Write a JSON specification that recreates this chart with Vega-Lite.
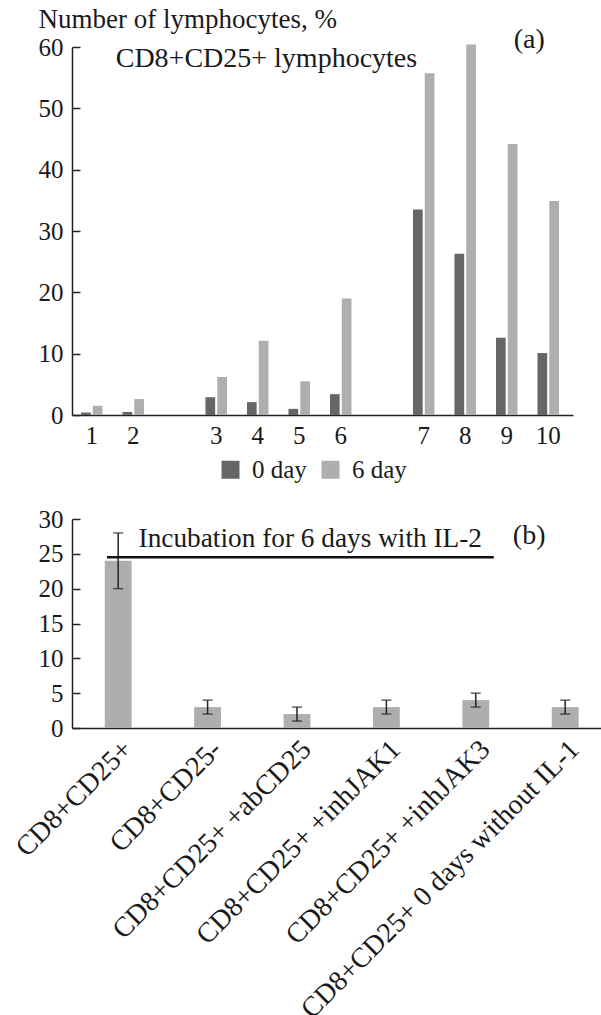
{
  "$schema": "https://vega.github.io/schema/vega-lite/v6.json",
  "padding": {"left": 10, "top": 5, "right": 0, "bottom": 0},
  "background": "white",
  "bounds": "flush",
  "spacing": 104,
  "config": {
    "view": {"stroke": null},
    "font": "Liberation Serif",
    "axis": {
      "labelFont": "Liberation Serif",
      "labelFontSize": 25,
      "labelColor": "#1a1a1a",
      "domainColor": "#222222",
      "domainWidth": 1.5,
      "tickColor": "#222222",
      "tickWidth": 1.5,
      "grid": false,
      "titleFont": "Liberation Serif",
      "titleFontWeight": "normal",
      "titleColor": "#1a1a1a"
    },
    "legend": {
      "labelFont": "Liberation Serif",
      "labelFontSize": 25,
      "labelColor": "#1a1a1a",
      "symbolStrokeWidth": 0,
      "columnPadding": 11,
      "labelOffset": 9,
      "padding": 0
    },
    "text": {"font": "Liberation Serif", "fontSize": 28, "color": "#1a1a1a"}
  },
  "vconcat": [
    {
      "width": 501,
      "height": 368,
      "layer": [
        {
          "data": {
            "values": [
              {"group": "1", "day": "0 day", "value": 0.4},
              {"group": "1", "day": "6 day", "value": 1.5},
              {"group": "2", "day": "0 day", "value": 0.5},
              {"group": "2", "day": "6 day", "value": 2.6},
              {"group": "3", "day": "0 day", "value": 2.9},
              {"group": "3", "day": "6 day", "value": 6.2},
              {"group": "4", "day": "0 day", "value": 2.1},
              {"group": "4", "day": "6 day", "value": 12.1},
              {"group": "5", "day": "0 day", "value": 1.0},
              {"group": "5", "day": "6 day", "value": 5.5},
              {"group": "6", "day": "0 day", "value": 3.4},
              {"group": "6", "day": "6 day", "value": 19.0},
              {"group": "7", "day": "0 day", "value": 33.5},
              {"group": "7", "day": "6 day", "value": 55.7},
              {"group": "8", "day": "0 day", "value": 26.3},
              {"group": "8", "day": "6 day", "value": 60.4},
              {"group": "9", "day": "0 day", "value": 12.6},
              {"group": "9", "day": "6 day", "value": 44.2},
              {"group": "10", "day": "0 day", "value": 10.1},
              {"group": "10", "day": "6 day", "value": 34.9}
            ]
          },
          "mark": {"type": "bar"},
          "encoding": {
            "x": {
              "field": "group",
              "type": "nominal",
              "sort": null,
              "scale": {
                "domain": ["1", "2", "gap1", "3", "4", "5", "6", "gap2", "7", "8", "9", "10"],
                "paddingInner": 0.482,
                "paddingOuter": 0.277,
                "align": 0.39
              },
              "axis": {
                "values": ["1", "2", "3", "4", "5", "6", "7", "8", "9", "10"],
                "labelAngle": 0,
                "ticks": false,
                "labelPadding": 8,
                "title": null
              }
            },
            "xOffset": {
              "field": "day",
              "type": "nominal",
              "scale": {"paddingInner": 0.178, "paddingOuter": 0}
            },
            "y": {
              "field": "value",
              "type": "quantitative",
              "scale": {"domain": [0, 60], "nice": false},
              "axis": {
                "values": [0, 10, 20, 30, 40, 50, 60],
                "tickSize": -8,
                "labelPadding": 17,
                "title": "Number of lymphocytes, %",
                "titleAngle": 0,
                "titleAlign": "left",
                "titleBaseline": "alphabetic",
                "titleX": -34,
                "titleY": -20,
                "titleFontSize": 27
              }
            },
            "color": {
              "field": "day",
              "type": "nominal",
              "scale": {"domain": ["0 day", "6 day"], "range": ["#666666", "#aeaeae"]},
              "legend": {
                "title": null,
                "orient": "none",
                "legendX": 146,
                "legendY": 410,
                "direction": "horizontal",
                "symbolType": "square",
                "symbolSize": 324
              }
            }
          }
        },
        {
          "data": {"values": [{"label": "CD8+CD25+ lymphocytes"}]},
          "mark": {"type": "text", "align": "left", "baseline": "alphabetic", "dx": 24},
          "encoding": {
            "x": {"datum": "1"},
            "y": {"datum": 56.7},
            "text": {"field": "label"}
          }
        },
        {
          "data": {"values": [{"label": "(a)"}]},
          "mark": {"type": "text", "align": "center", "baseline": "middle", "dx": -19},
          "encoding": {
            "x": {"datum": "10"},
            "y": {"datum": 61.2},
            "text": {"field": "label"}
          }
        }
      ]
    },
    {
      "width": 529,
      "height": 209,
      "layer": [
        {
          "data": {
            "values": [
              {"condition": "CD8+CD25+", "mean": 24, "low": 20, "high": 28},
              {"condition": "CD8+CD25-", "mean": 3, "low": 2, "high": 4},
              {"condition": "CD8+CD25+ +abCD25", "mean": 2, "low": 1, "high": 3},
              {"condition": "CD8+CD25+ +inhJAK1", "mean": 3, "low": 2, "high": 4},
              {"condition": "CD8+CD25+ +inhJAK3", "mean": 4, "low": 3, "high": 5},
              {"condition": "CD8+CD25+ 0 days without IL-1", "mean": 3, "low": 2, "high": 4}
            ]
          },
          "layer": [
            {
              "mark": {"type": "bar", "color": "#aeaeae"},
              "encoding": {
                "x": {
                  "field": "condition",
                  "type": "nominal",
                  "sort": null,
                  "scale": {"paddingInner": 0.7, "paddingOuter": 0.3086, "align": 0.594},
                  "axis": {
                    "labelAngle": -45,
                    "ticks": false,
                    "title": null,
                    "labelPadding": 7,
                    "labelFontSize": 28,
                    "labelLimit": 0
                  }
                },
                "y": {
                  "field": "mean",
                  "type": "quantitative",
                  "scale": {"domain": [0, 30], "nice": false},
                  "axis": {
                    "values": [0, 5, 10, 15, 20, 25, 30],
                    "tickSize": -8,
                    "labelPadding": 17,
                    "labelOverlap": false,
                    "title": null
                  }
                }
              }
            },
            {
              "mark": {
                "type": "errorbar",
                "ticks": {"size": 10, "thickness": 1.5, "color": "#222222"},
                "rule": {"strokeWidth": 1.5, "color": "#222222"}
              },
              "encoding": {
                "x": {"field": "condition", "type": "nominal", "sort": null},
                "y": {
                  "field": "low",
                  "type": "quantitative",
                  "axis": {
                    "values": [0, 5, 10, 15, 20, 25, 30],
                    "tickSize": -8,
                    "labelPadding": 17,
                    "labelOverlap": false,
                    "title": null
                  }
                },
                "y2": {"field": "high"}
              }
            }
          ]
        },
        {
          "data": {"values": [{"label": "Incubation for 6 days with IL-2"}]},
          "layer": [
            {
              "mark": {"type": "rule", "color": "#111111", "strokeWidth": 2.5, "x2Offset": 18},
              "encoding": {
                "x": {"datum": "CD8+CD25+", "bandPosition": 0.08},
                "x2": {"datum": "CD8+CD25+ +inhJAK3"},
                "y": {
                  "datum": 24.5,
                  "axis": {
                    "values": [0, 5, 10, 15, 20, 25, 30],
                    "tickSize": -8,
                    "labelPadding": 17,
                    "labelOverlap": false,
                    "title": null
                  }
                }
              }
            },
            {
              "mark": {"type": "text", "align": "left", "baseline": "alphabetic", "dx": 7, "fontSize": 27.3},
              "encoding": {
                "x": {"datum": "CD8+CD25+", "bandPosition": 1},
                "y": {
                  "datum": 26.0,
                  "axis": {
                    "values": [0, 5, 10, 15, 20, 25, 30],
                    "tickSize": -8,
                    "labelPadding": 17,
                    "labelOverlap": false,
                    "title": null
                  }
                },
                "text": {"field": "label"}
              }
            }
          ]
        },
        {
          "data": {"values": [{"label": "(b)"}]},
          "mark": {"type": "text", "align": "center", "baseline": "middle", "dx": -36},
          "encoding": {
            "x": {"datum": "CD8+CD25+ 0 days without IL-1"},
            "y": {
              "datum": 27.5,
              "axis": {
                "values": [0, 5, 10, 15, 20, 25, 30],
                "tickSize": -8,
                "labelPadding": 17,
                "labelOverlap": false,
                "title": null
              }
            },
            "text": {"field": "label"}
          }
        }
      ]
    }
  ]
}
